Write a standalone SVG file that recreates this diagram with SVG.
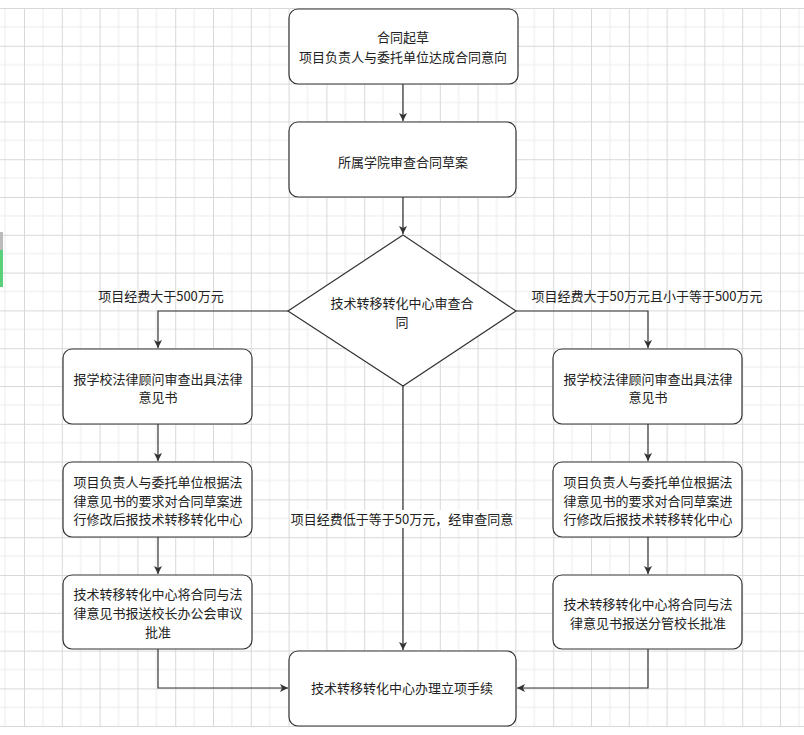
<svg xmlns="http://www.w3.org/2000/svg" width="804" height="735" viewBox="0 0 804 735">
<style>
.box{fill:#fff;stroke:#333;stroke-width:1.2}
.t{font-family:"Noto Sans CJK SC","Noto Sans",sans-serif;font-size:13px;fill:#222;text-anchor:middle}
.c{fill:none;stroke:#333;stroke-width:1.2}
</style>
<defs>
<pattern id="grid" patternUnits="userSpaceOnUse" x="24" y="8" width="37.8" height="37.8">
<path d="M18.9,0V37.8M0,18.9H37.8" stroke="#ececec" stroke-width="1" fill="none"/>
<path d="M0.5,0V37.8M0,0.5H37.8" stroke="#d8d8d8" stroke-width="1" fill="none"/>
</pattern>
<marker id="arr" markerUnits="userSpaceOnUse" markerWidth="10" markerHeight="10" refX="8" refY="4" orient="auto">
<path d="M0,0 L8,4 L0,8 L2,4 Z" fill="#333"/>
</marker>
</defs>
<rect width="804" height="735" fill="#fff"/>
<rect x="0" y="8" width="804" height="719" fill="url(#grid)"/>
<line x1="0" y1="726.5" x2="804" y2="726.5" stroke="#d8d8d8"/>
<rect x="0" y="232" width="3" height="18" fill="#bbb"/>
<rect x="0" y="250" width="3" height="37" fill="#5ad07a"/>

<g id="connectors">
<path class="c" d="M403,84V121" marker-end="url(#arr)"/>
<path class="c" d="M403,197V234" marker-end="url(#arr)"/>
<path class="c" d="M288,311H158V348" marker-end="url(#arr)"/>
<path class="c" d="M516,311H648V348" marker-end="url(#arr)"/>
<path class="c" d="M158,424V461" marker-end="url(#arr)"/>
<path class="c" d="M158,537V574" marker-end="url(#arr)"/>
<path class="c" d="M648,424V461" marker-end="url(#arr)"/>
<path class="c" d="M648,537V574" marker-end="url(#arr)"/>
<path class="c" d="M158,649V688H288" marker-end="url(#arr)"/>
<path class="c" d="M648,649V688H517" marker-end="url(#arr)"/>
<path class="c" d="M403,386V650" marker-end="url(#arr)"/>
<text class="t" x="161" y="301">项目经费大于500万元</text>
<text class="t" x="647" y="301">项目经费大于50万元且小于等于500万元</text>
<rect x="290" y="510" width="225" height="18" fill="#fff"/>
<text class="t" x="402" y="524">项目经费低于等于50万元，经审查同意</text>
</g>

<g id="n1">
<rect class="box" x="289" y="9" width="229" height="75" rx="9"/>
<text class="t" x="403" y="42">合同起草</text>
<text class="t" x="403" y="62">项目负责人与委托单位达成合同意向</text>
</g>
<g id="n2">
<rect class="box" x="289" y="122" width="227" height="75" rx="9"/>
<text class="t" x="403" y="167">所属学院审查合同草案</text>
</g>
<g id="n3">
<path class="box" d="M403,235L516,311L403,386L288,311Z"/>
<text class="t" x="402" y="308">技术转移转化中心审查合</text>
<text class="t" x="402" y="327">同</text>
</g>
<g id="n4">
<rect class="box" x="63" y="349" width="189" height="75" rx="9"/>
<text class="t" x="158" y="384">报学校法律顾问审查出具法律</text>
<text class="t" x="158" y="402">意见书</text>
</g>
<g id="n5">
<rect class="box" x="63" y="462" width="189" height="75" rx="9"/>
<text class="t" x="158" y="487">项目负责人与委托单位根据法</text>
<text class="t" x="158" y="506">律意见书的要求对合同草案进</text>
<text class="t" x="158" y="524">行修改后报技术转移转化中心</text>
</g>
<g id="n6">
<rect class="box" x="63" y="575" width="189" height="74" rx="9"/>
<text class="t" x="158" y="599">技术转移转化中心将合同与法</text>
<text class="t" x="158" y="618">律意见书报送校长办公会审议</text>
<text class="t" x="158" y="637">批准</text>
</g>
<g id="n7">
<rect class="box" x="553" y="349" width="189" height="75" rx="9"/>
<text class="t" x="648" y="384">报学校法律顾问审查出具法律</text>
<text class="t" x="648" y="402">意见书</text>
</g>
<g id="n8">
<rect class="box" x="553" y="462" width="189" height="75" rx="9"/>
<text class="t" x="648" y="487">项目负责人与委托单位根据法</text>
<text class="t" x="648" y="506">律意见书的要求对合同草案进</text>
<text class="t" x="648" y="524">行修改后报技术转移转化中心</text>
</g>
<g id="n9">
<rect class="box" x="553" y="575" width="189" height="74" rx="9"/>
<text class="t" x="648" y="609">技术转移转化中心将合同与法</text>
<text class="t" x="648" y="628">律意见书报送分管校长批准</text>
</g>
<g id="n10">
<rect class="box" x="289" y="651" width="227" height="75" rx="9"/>
<text class="t" x="402" y="693">技术转移转化中心办理立项手续</text>
</g>
</svg>
